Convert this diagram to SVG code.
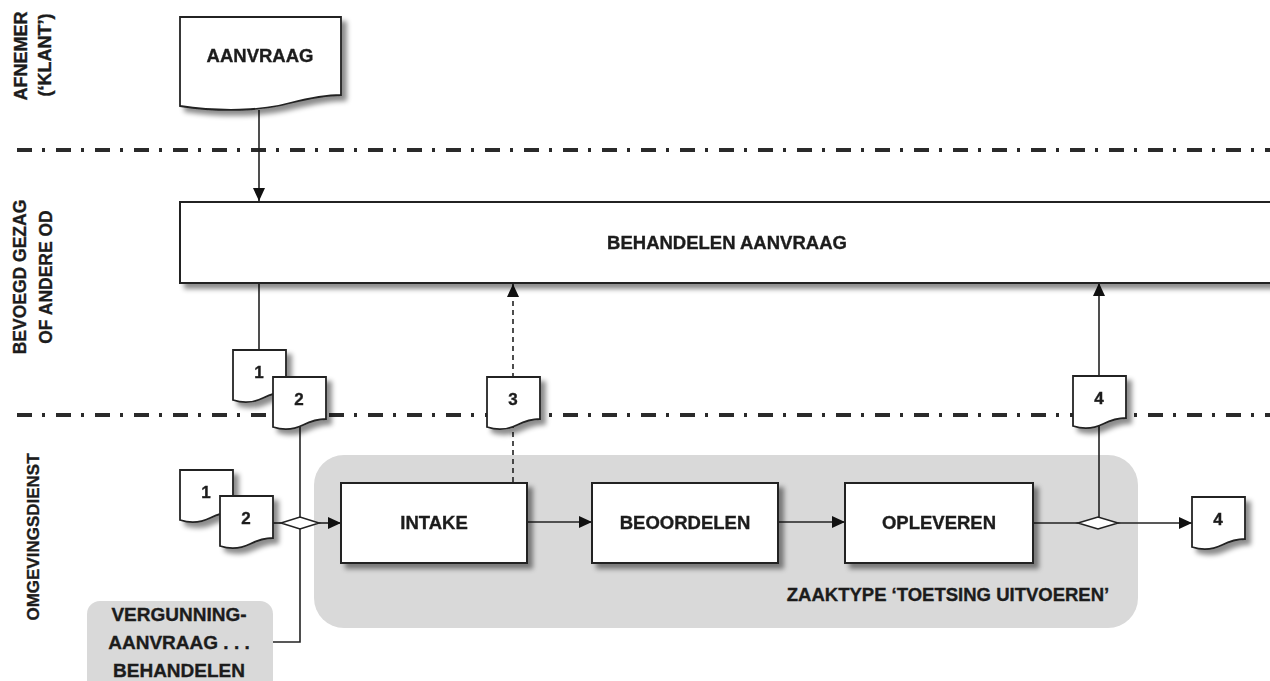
<svg xmlns="http://www.w3.org/2000/svg" width="1270" height="681" viewBox="0 0 1270 681">
<style>
.lane{stroke:#2a2a2a;stroke-width:4;stroke-dasharray:15 10 3 11;fill:none}
.t{font-family:"Liberation Sans",Arial,sans-serif;font-weight:bold;fill:#1c1c1c;stroke:#1c1c1c;stroke-width:0.35;text-anchor:middle}
.box{fill:#fff;stroke:#222;stroke-width:2}
.doc{fill:#fff;stroke:#222;stroke-width:1.8}
.c{stroke:#222;stroke-width:1.6;fill:none}
.d{stroke:#222;stroke-width:1.6;fill:none;stroke-dasharray:5 4}
.dia{fill:#fff;stroke:#222;stroke-width:1.6}
.grey{fill:#d9d9d9}
</style>
<defs>
<filter id="sh" x="-20%" y="-20%" width="150%" height="160%">
<feDropShadow dx="5" dy="5" stdDeviation="2.5" flood-color="#000" flood-opacity="0.45"/>
</filter>
<marker id="ar" markerUnits="userSpaceOnUse" markerWidth="13" markerHeight="12" refX="13" refY="6" orient="auto">
<path d="M0,0 L13,6 L0,12 Z" fill="#111"/>
</marker>
<path id="sdoc" d="M0,0 H53 V42 C44,42 38,44 30,48 C22,52 12,54 0,50 Z"/>
</defs>
<rect width="1270" height="681" fill="#fff"/>

<!-- lanes -->
<g id="lanes">
<line class="lane" x1="17" y1="150" x2="1270" y2="150"/>
<line class="lane" x1="17" y1="415" x2="1270" y2="415"/>
<text class="t" font-size="18" transform="translate(27,56) rotate(-90)">AFNEMER</text>
<text class="t" font-size="18" transform="translate(51,55) rotate(-90)">(‘KLANT’)</text>
<text class="t" font-size="17.5" transform="translate(26,277) rotate(-90)">BEVOEGD GEZAG</text>
<text class="t" font-size="17.5" transform="translate(52,277) rotate(-90)">OF ANDERE  OD</text>
<text class="t" font-size="17" transform="translate(39,537) rotate(-90)">OMGEVINGSDIENST</text>
</g>

<!-- background groups -->
<g id="zaaktype">
<rect class="grey" x="314" y="455" width="824" height="173" rx="30"/>
<text class="t" font-size="18.5" x="948" y="601">ZAAKTYPE ‘TOETSING UITVOEREN’</text>
</g>
<g id="vergunning">
<rect class="grey" x="87" y="601" width="186" height="95" rx="13"/>
<text class="t" font-size="19" x="179" y="621">VERGUNNING-</text>
<text class="t" font-size="19" x="179" y="649">AANVRAAG . . .</text>
<text class="t" font-size="19" x="179" y="677">BEHANDELEN</text>
</g>

<!-- connectors -->
<g id="connectors">
<line class="c" x1="259" y1="110" x2="259" y2="201" marker-end="url(#ar)"/>
<line class="c" x1="259" y1="283" x2="259" y2="352"/>
<line class="c" x1="300" y1="425" x2="300" y2="517"/>
<line class="c" x1="273" y1="523" x2="281" y2="523"/>
<line class="c" x1="319" y1="523" x2="341" y2="523" marker-end="url(#ar)"/>
<polyline class="c" points="300,529 300,642 273,642"/>
<line class="c" x1="527" y1="522" x2="592" y2="522" marker-end="url(#ar)"/>
<line class="c" x1="778" y1="522" x2="845" y2="522" marker-end="url(#ar)"/>
<line class="c" x1="1033" y1="523" x2="1078" y2="523"/>
<line class="c" x1="1118" y1="523" x2="1192" y2="523" marker-end="url(#ar)"/>
<line class="c" x1="1099" y1="517" x2="1099" y2="424"/>
<line class="c" x1="1099" y1="377" x2="1099" y2="283" marker-end="url(#ar)"/>
<line class="d" x1="513" y1="482" x2="513" y2="425"/>
<line class="d" x1="513" y1="378" x2="513" y2="284" marker-end="url(#ar)"/>
<polygon class="dia" points="281,523 300,517 319,523 300,529"/>
<polygon class="dia" points="1078,523 1098,517 1118,523 1098,529"/>
</g>

<!-- nodes -->
<g id="aanvraag-doc" filter="url(#sh)">
<path class="doc" d="M180,17 H341 V95 C326,95 310,98 290,103 C262,111 220,112 180,106 Z"/>
<text class="t" font-size="18.5" x="260" y="62">AANVRAAG</text>
</g>
<g id="behandelen-aanvraag" filter="url(#sh)">
<rect class="box" x="180" y="202" width="1100" height="81"/>
<text class="t" font-size="18.5" x="727" y="249">BEHANDELEN AANVRAAG</text>
</g>
<g id="doc1-top" filter="url(#sh)">
<use href="#sdoc" class="doc" x="233" y="350"/>
<text class="t" font-size="17" x="259" y="378">1</text>
</g>
<g id="doc2-top" filter="url(#sh)">
<use href="#sdoc" class="doc" x="273" y="377"/>
<text class="t" font-size="17" x="299" y="405">2</text>
</g>
<g id="doc3" filter="url(#sh)">
<use href="#sdoc" class="doc" x="487" y="377"/>
<text class="t" font-size="17" x="513" y="405">3</text>
</g>
<g id="doc4-top" filter="url(#sh)">
<use href="#sdoc" class="doc" x="1073" y="376"/>
<text class="t" font-size="17" x="1099" y="404">4</text>
</g>
<g id="doc1-low" filter="url(#sh)">
<use href="#sdoc" class="doc" x="180" y="470"/>
<text class="t" font-size="17" x="206" y="498">1</text>
</g>
<g id="doc2-low" filter="url(#sh)">
<use href="#sdoc" class="doc" x="220" y="496"/>
<text class="t" font-size="17" x="246" y="524">2</text>
</g>
<g id="doc4-low" filter="url(#sh)">
<use href="#sdoc" class="doc" x="1192" y="497"/>
<text class="t" font-size="17" x="1218" y="525">4</text>
</g>
<g id="intake" filter="url(#sh)">
<rect class="box" x="341" y="483" width="186" height="80"/>
<text class="t" font-size="18.5" x="434" y="529">INTAKE</text>
</g>
<g id="beoordelen" filter="url(#sh)">
<rect class="box" x="592" y="483" width="186" height="80"/>
<text class="t" font-size="18.5" x="685" y="529">BEOORDELEN</text>
</g>
<g id="opleveren" filter="url(#sh)">
<rect class="box" x="845" y="483" width="188" height="80"/>
<text class="t" font-size="18.5" x="939" y="529">OPLEVEREN</text>
</g>
</svg>
